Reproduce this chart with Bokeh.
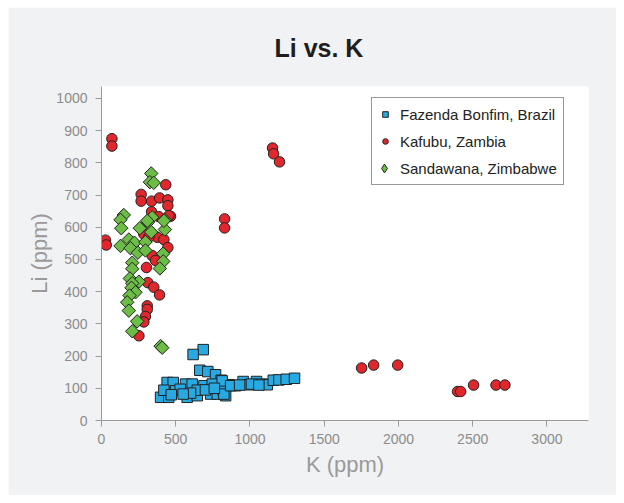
import math
from bokeh.plotting import figure
from bokeh.models import Range1d, FixedTicker, Legend, LegendItem, Title
from bokeh.embed import file_html
from bokeh.resources import INLINE

# ---- data (K ppm, Li ppm) ----
brazil_k = [685, 617, 662, 716, 768, 806, 858, 442, 483, 398, 453, 420, 499, 566, 566, 611,
            577, 645, 690, 735, 746, 780, 820, 836, 645, 813, 903, 954, 993, 1044, 1083, 1117,
            1157, 1195, 1244, 1300, 824, 870, 930, 1010, 1060, 530, 600, 700, 760, 470, 550]
brazil_li = [220, 205, 156, 152, 142, 125, 111, 118, 118, 72, 72, 94, 92, 92, 113, 113,
             72, 77, 108, 82, 113, 82, 94, 77, 94, 123, 108, 121, 111, 121, 113, 111,
             125, 126, 128, 131, 82, 108, 110, 113, 110, 97, 85, 95, 100, 80, 82]

zambia_k = [70, 70, 27, 32, 433, 267, 267, 337, 391, 447, 447, 337, 386, 465, 454, 285, 375,
            420, 447, 341, 364, 303, 312, 352, 391, 308, 308, 296, 285, 252, 319,
            829, 829, 1152, 1159, 1199, 1752, 1833, 1995, 2398, 2419, 2506, 2657, 2717]
zambia_li = [875, 852, 560, 545, 732, 702, 681, 681, 691, 685, 667, 648, 633, 634, 636, 579, 569,
             562, 537, 512, 497, 475, 428, 414, 390, 356, 345, 323, 306, 263, 569,
             626, 598, 846, 828, 803, 163, 172, 172, 90, 90, 110, 110, 110]

zimbabwe_k = [335, 326, 352, 150, 128, 133, 341, 312, 425, 258, 335, 427, 184, 128, 222, 195,
              296, 245, 296, 415, 416, 207, 207, 393, 191, 252, 207, 202, 229, 189, 173, 184,
              240, 207, 398, 409, 308, 420]
zimbabwe_li = [767, 740, 738, 638, 623, 597, 631, 615, 623, 597, 585, 593, 562, 542, 552, 535,
               554, 521, 528, 518, 494, 490, 471, 472, 441, 431, 426, 412, 398, 388, 367, 341,
               308, 277, 231, 226, 620, 620]

series_names = ["Fazenda Bonfim, Brazil", "Kafubu, Zambia", "Sandawana, Zimbabwe"]
x_ticks = [0, 500, 1000, 1500, 2000, 2500, 3000]
y_ticks = [0, 100, 200, 300, 400, 500, 600, 700, 800, 900, 1000]

FONT = "Liberation Sans"
GRAY = "#9a9a9a"
BLUE, RED, GREEN = "#29a9e1", "#e1262c", "#6cbd45"
EDGE = "#222222"

p = figure(width=608, height=488, output_backend="svg", toolbar_location=None,
           x_range=Range1d(0, 3280), y_range=Range1d(0, 1037),
           min_border_left=93, min_border_right=28, min_border_top=78, min_border_bottom=75)
p.margin = (7, 8, 8, 8)
p.border_fill_color = "#f1f2f4"
p.background_fill_color = "white"
p.outline_line_color = None
p.grid.grid_line_color = None

# title
p.title.text = "Li vs. K"
p.title.align = "left"
p.title.offset = 173
p.title.text_font = FONT
p.title.text_font_size = "25px"
p.title.text_font_style = "bold"
p.title.text_color = "#1e1e1e"
if "standoff" in Title.properties():
    p.title.standoff = 49

for ax in (p.xaxis, p.yaxis):
    ax.axis_line_color = GRAY
    ax.major_tick_line_color = GRAY
    ax.minor_tick_line_color = None
    ax.major_tick_in = 0
    ax.major_tick_out = 6
    ax.major_label_text_color = "#8c8c8c"
    ax.major_label_text_font = FONT
    ax.major_label_text_font_size = "14px"
    ax.axis_label_text_color = GRAY
    ax.axis_label_text_font = FONT
    ax.axis_label_text_font_size = "22px"
    ax.axis_label_text_font_style = "normal"

p.xaxis.ticker = FixedTicker(ticks=x_ticks)
p.yaxis.ticker = FixedTicker(ticks=y_ticks)
p.xaxis.axis_label = "K (ppm)"
p.yaxis.axis_label = "Li (ppm)"
p.xaxis.major_label_standoff = 7
p.yaxis.major_label_standoff = 8
p.xaxis.axis_label_standoff = 5
p.yaxis.axis_label_standoff = 1

r1 = p.scatter(brazil_k, brazil_li, marker="square", size=10.5, fill_color=BLUE,
               line_color=EDGE, line_width=1)
r2 = p.scatter(zambia_k, zambia_li, marker="circle", size=10.5, fill_color=RED,
               line_color=EDGE, line_width=1)
r3 = p.scatter(zimbabwe_k, zimbabwe_li, marker="square", angle=math.pi / 4, size=9.5,
               fill_color=GREEN, line_color=EDGE, line_width=1)

# legend-only glyphs (a single NaN point each, never drawn in the plot)
nan = float("nan")
r3_blank = p.scatter([nan], [nan], marker="diamond", size=1, fill_alpha=0, line_alpha=0)
r3_leg = p.scatter([nan], [nan], marker="diamond", size=12, fill_color=GREEN,
                   line_color=EDGE, line_width=1)

legend = Legend(items=[LegendItem(label=series_names[0], renderers=[r1]),
                       LegendItem(label=series_names[1], renderers=[r2]),
                       LegendItem(label=series_names[2], renderers=[r3_blank])],
                location=(270, 235))
legend.border_line_color = "#333333"
legend.border_line_width = 1
legend.background_fill_color = "white"
legend.background_fill_alpha = 1
legend.label_text_font = FONT
legend.label_text_font_size = "15px"
legend.label_text_color = "#222222"
legend.glyph_width = 14
legend.glyph_height = 20
legend.label_standoff = 8
legend.spacing = 7
legend.padding = 6
legend.margin = 0
p.add_layout(legend, "center")

# larger diamond symbol laid over the third legend row
legend_d = Legend(items=[LegendItem(label=" ", renderers=[r3_leg])], location=(272, 241))
legend_d.glyph_width = 22
legend_d.glyph_height = 22
legend_d.padding = 0
legend_d.margin = 0
legend_d.label_standoff = 0
legend_d.label_text_font_size = "1px"
legend_d.border_line_color = None
legend_d.background_fill_alpha = 0
p.add_layout(legend_d, "center")

open("out.html", "w").write(file_html(p, INLINE))
